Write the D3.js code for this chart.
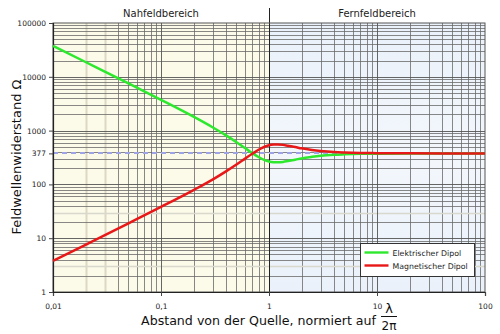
<!DOCTYPE html>
<html>
<head>
<meta charset="utf-8">
<title>Feldwellenwiderstand</title>
<style>
  body { margin: 0; background: #fff; }
  text { font-family: "DejaVu Sans", sans-serif; }
</style>
</head>
<body>
<svg width="500" height="334"></svg>
<script src="https://d3js.org/d3.v7.min.js"></script>
<script>
var abstand = [0.01, 0.02, 0.05, 0.1, 0.2, 0.3, 0.4, 0.5, 0.6, 0.7, 0.8, 0.9, 1, 1.1, 1.2, 1.35, 1.5, 1.75, 2, 2.5, 3, 4, 5, 7, 10, 20, 50, 100];
var elektrisch = [37700, 18840, 7520, 3730, 1813, 1153, 814, 608, 473, 382, 323, 286, 267, 259, 257, 262, 272, 288, 304, 325, 340, 355, 362, 370, 373, 376, 377, 377];
var magnetisch = [3.77, 7.54, 18.9, 38.1, 78.4, 123, 175, 234, 301, 372, 440, 496, 533, 549, 553, 543, 522, 494, 468, 437, 419, 400, 392, 384, 381, 378, 377, 377];
var xTicks = [0.01, 0.1, 1, 10, 100];
var xTickLabels = ["0,01", "0,1", "1", "10", "100"];
var yTicks = [1, 10, 100, 377, 1000, 10000, 100000];
var z0 = 377;
var legende = ["Elektrischer Dipol", "Magnetischer Dipol"];
var farben = ["#2de82d", "#e81818"];
var helleX = [0.02, 0.03];
var helleY = [3, 30];

var svg = d3.select("svg");
var x = d3.scaleLog().domain([0.01, 100]).range([53, 485]);
var y = d3.scaleLog().domain([1, 100000]).range([292, 23]);

// Hintergrund Nah-/Fernfeld
svg.append("rect").attr("x", x(0.01)).attr("y", y(100000))
  .attr("width", x(1) - x(0.01)).attr("height", y(1) - y(100000))
  .attr("fill", "#fcfbea");
var grad = svg.append("defs").append("linearGradient").attr("id", "fern")
  .attr("x1", 0).attr("x2", 0).attr("y1", 0).attr("y2", 1);
grad.append("stop").attr("offset", 0).attr("stop-color", "#eaf1fa");
grad.append("stop").attr("offset", 0.5).attr("stop-color", "#f3f7fc");
grad.append("stop").attr("offset", 1).attr("stop-color", "#eaf1fa");
svg.append("rect").attr("x", x(1)).attr("y", y(100000))
  .attr("width", x(100) - x(1)).attr("height", y(1) - y(100000))
  .attr("fill", "url(#fern)");

// Gitter
var xMinor = [], yMinor = [];
[0.01, 0.1, 1, 10].forEach(function (d) {
  for (var k = 2; k <= 9; k++) xMinor.push(+(d * k).toPrecision(3));
});
[1, 10, 100, 1000, 10000].forEach(function (d) {
  for (var k = 2; k <= 9; k++) yMinor.push(+(d * k).toPrecision(3));
});
function hellX(v) { return helleX.indexOf(v) >= 0; }
function hellY(v) { return helleY.indexOf(v) >= 0; }
var grid = svg.append("g");
grid.selectAll(".vx").data(xMinor).enter().append("line")
  .attr("x1", function (d) { return Math.round(x(d)) + 0.5; })
  .attr("x2", function (d) { return Math.round(x(d)) + 0.5; })
  .attr("y1", y(1)).attr("y2", y(100000))
  .attr("stroke", function (d) { return hellX(d) ? "#dcd8c4" : "#6a6a6a"; })
  .attr("stroke-width", function (d) { return hellX(d) ? 2 : 0.8; });
grid.selectAll(".hy").data(yMinor).enter().append("line")
  .attr("y1", function (d) { return Math.round(y(d)) + 0.5; })
  .attr("y2", function (d) { return Math.round(y(d)) + 0.5; })
  .attr("x1", x(0.01)).attr("x2", x(100))
  .attr("stroke", function (d) { return hellY(d) ? "#d8d8cc" : "#6a6a6a"; })
  .attr("stroke-width", function (d) { return hellY(d) ? 1.6 : 0.8; });
grid.selectAll(".mx").data([0.1, 10]).enter().append("line")
  .attr("x1", function (d) { return Math.round(x(d)) + 0.5; })
  .attr("x2", function (d) { return Math.round(x(d)) + 0.5; })
  .attr("y1", y(1)).attr("y2", y(100000)).attr("stroke", "#555").attr("stroke-width", 0.9);
grid.selectAll(".my").data([10, 100, 1000, 10000]).enter().append("line")
  .attr("y1", function (d) { return Math.round(y(d)) + 0.5; })
  .attr("y2", function (d) { return Math.round(y(d)) + 0.5; })
  .attr("x1", x(0.01)).attr("x2", x(100)).attr("stroke", "#555").attr("stroke-width", 0.9);

// Trennlinie bei 1
svg.append("line").attr("x1", Math.round(x(1)) + 0.5).attr("x2", Math.round(x(1)) + 0.5)
  .attr("y1", 8).attr("y2", y(1))
  .attr("stroke", "#222").attr("stroke-width", 1);

// Rahmen
svg.append("rect").attr("x", x(0.01)).attr("y", y(100000))
  .attr("width", x(100) - x(0.01)).attr("height", y(1) - y(100000))
  .attr("fill", "none").attr("stroke", "#555").attr("stroke-width", 1);

// 377 Ohm gestrichelt
svg.append("line").attr("x1", x(0.01)).attr("x2", x(100))
  .attr("y1", Math.round(y(z0))).attr("y2", Math.round(y(z0)))
  .attr("stroke", "#9da3e6").attr("stroke-width", 2).attr("stroke-dasharray", "5,4");

// Achsen
var xAxis = d3.axisBottom(x).tickValues(xTicks).tickSize(4)
  .tickFormat(function (d, i) { return xTickLabels[i]; });
var gx = svg.append("g").attr("transform", "translate(0," + y(1) + ")").call(xAxis);
var yAxis = d3.axisLeft(y).tickValues(yTicks).tickSize(4).tickFormat(d3.format("d"));
var gy = svg.append("g").attr("transform", "translate(" + x(0.01) + ",0)").call(yAxis);
[gx, gy].forEach(function (g) {
  g.select(".domain").attr("stroke", "#222").attr("stroke-width", 1.2);
  g.selectAll(".tick line").attr("stroke", "#444");
  g.selectAll(".tick text").attr("font-size", 7.5).attr("fill", "#222")
    .style("font-family", "'DejaVu Sans', sans-serif");
});
gx.selectAll(".tick text").attr("dy", "1.3em");

// Kurven
var linie = d3.line().x(function (d) { return x(d[0]); }).y(function (d) { return y(d[1]); })
  .curve(d3.curveMonotoneX);
[elektrisch, magnetisch].forEach(function (werte, i) {
  svg.append("path").datum(abstand.map(function (a, j) { return [a, werte[j]]; }))
    .attr("d", linie).attr("fill", "none")
    .attr("stroke", farben[i]).attr("stroke-width", 2.5);
});

// Bereiche
svg.append("text").attr("x", (x(0.01) + x(1)) / 2).attr("y", 17).attr("text-anchor", "middle")
  .attr("font-size", 10).attr("fill", "#222").text("Nahfeldbereich");
svg.append("text").attr("x", (x(1) + x(100)) / 2).attr("y", 17).attr("text-anchor", "middle")
  .attr("font-size", 10).attr("fill", "#222").text("Fernfeldbereich");

// Achsentitel
svg.append("text").attr("transform", "translate(21,157) rotate(-90)")
  .attr("text-anchor", "middle").attr("font-size", 13).attr("fill", "#111")
  .text("Feldwellenwiderstand Ω");
svg.append("text").attr("x", 141).attr("y", 325).attr("font-size", 13).attr("fill", "#111")
  .attr("textLength", 235).attr("lengthAdjust", "spacingAndGlyphs")
  .text("Abstand von der Quelle, normiert auf");
svg.append("text").attr("x", 389).attr("y", 313).attr("text-anchor", "middle")
  .attr("font-size", 13).attr("fill", "#111").text("λ");
svg.append("line").attr("x1", 381).attr("x2", 397).attr("y1", 316.5).attr("y2", 316.5)
  .attr("stroke", "#111").attr("stroke-width", 1);
svg.append("text").attr("x", 389).attr("y", 330).attr("text-anchor", "middle")
  .attr("font-size", 12).attr("fill", "#111").text("2π");

// Legende
var leg = svg.append("g").attr("transform", "translate(360.5,243.5)");
leg.append("rect").attr("width", 114).attr("height", 33).attr("fill", "#fff")
  .attr("stroke", "#333").attr("stroke-width", 1);
legende.forEach(function (t, i) {
  leg.append("line").attr("x1", 4).attr("x2", 28).attr("y1", 9 + i * 13).attr("y2", 9 + i * 13)
    .attr("stroke", farben[i]).attr("stroke-width", 2.4);
  leg.append("text").attr("x", 32).attr("y", 12 + i * 13).attr("font-size", 7.8)
    .attr("fill", "#222").text(t);
});
</script>
</body>
</html>
